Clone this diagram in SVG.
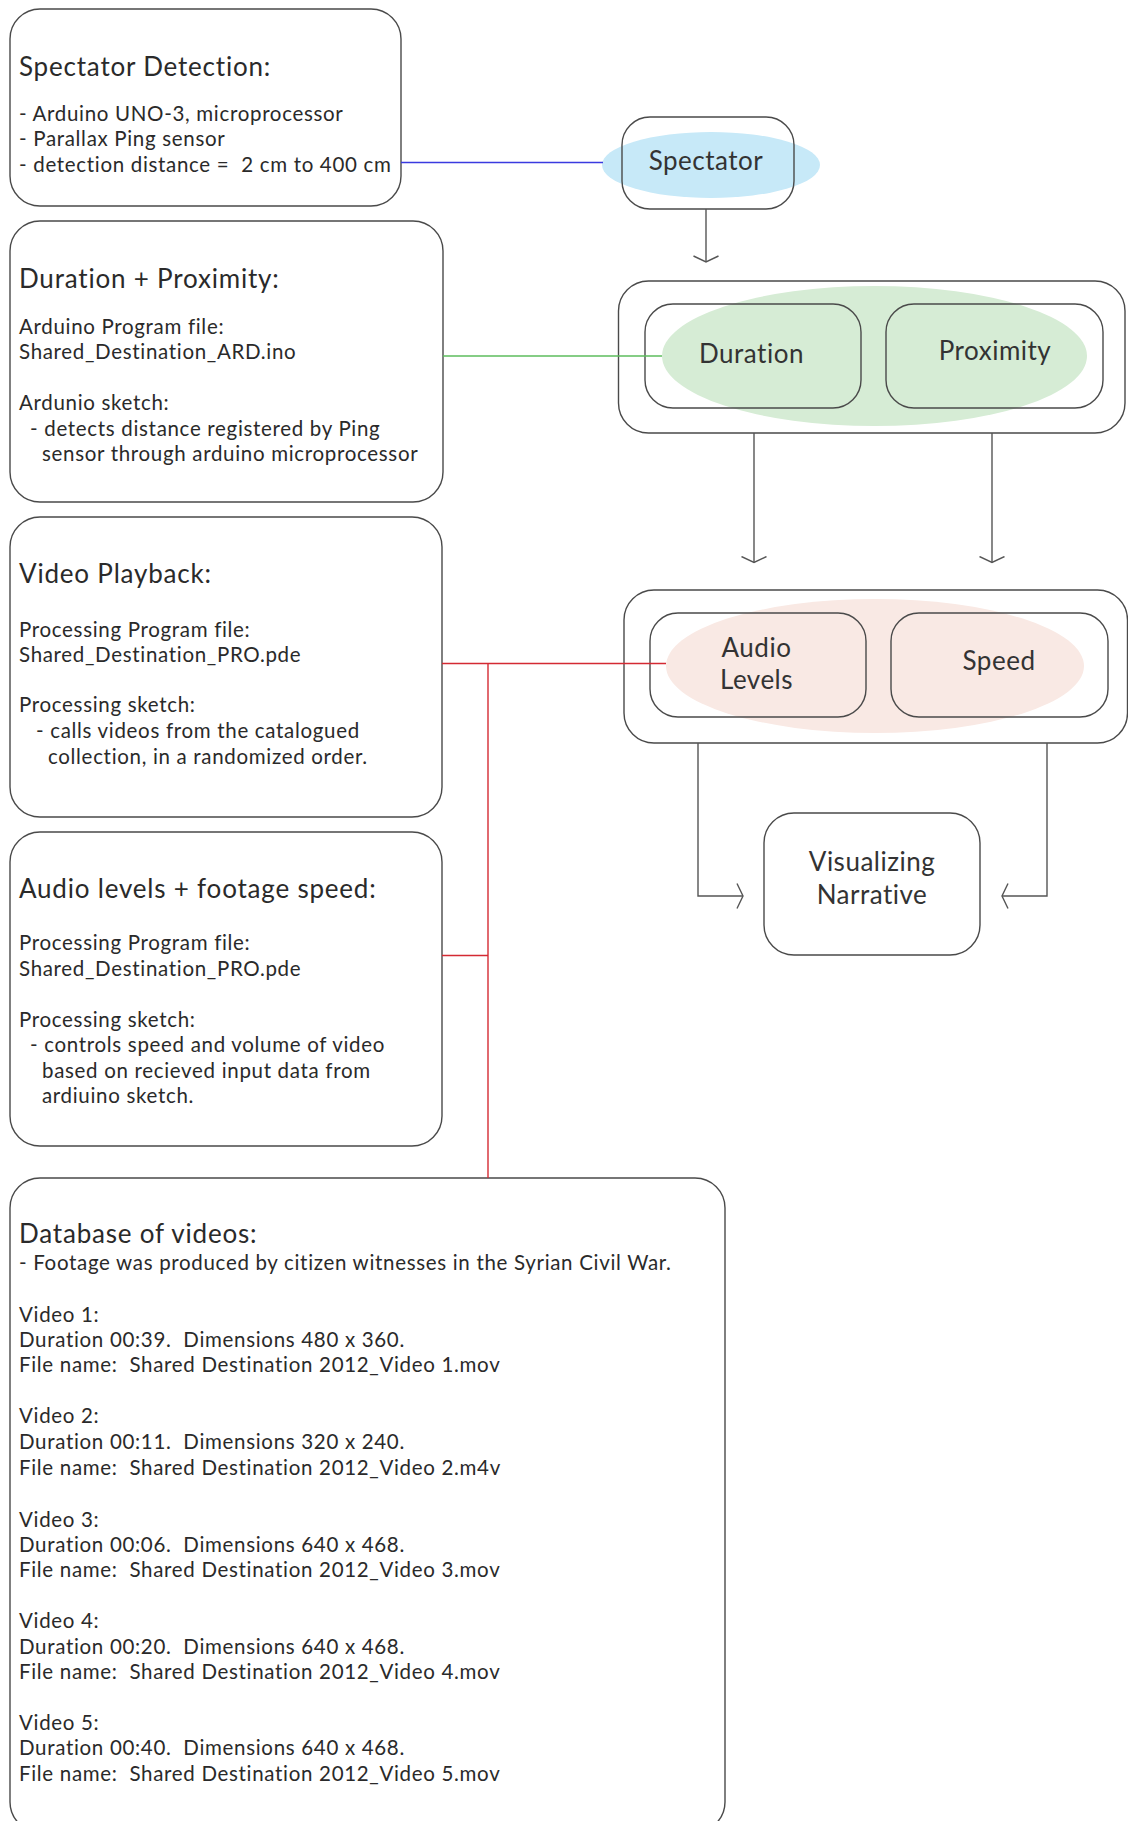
<svg xmlns="http://www.w3.org/2000/svg" width="1128" height="1821" viewBox="0 0 1128 1821">
  <style>
    text { white-space: pre; }
    .box { fill: #ffffff; stroke: #4a4a4a; stroke-width: 1.4; }
    .inner { fill: none; stroke: #4a4a4a; stroke-width: 1.4; }
    .title { font-family: Lato, "Liberation Sans", sans-serif; font-size: 26px; letter-spacing: 0.8px; fill: #2a2a2a; }
    .body { font-family: Lato, "Liberation Sans", sans-serif; font-size: 20.5px; letter-spacing: 0.68px; fill: #2a2a2a; }
    .label { font-family: Lato, "Liberation Sans", sans-serif; font-size: 26px; letter-spacing: 0.5px; fill: #333333; text-anchor: middle; }
    .flow { fill: none; stroke: #555555; stroke-width: 1.4; marker-end: url(#chevron); }
    .blue { stroke: #3a3ae0; stroke-width: 1.4; fill: none; }
    .green { stroke: #5cbc5c; stroke-width: 1.4; fill: none; }
    .red { stroke: #d42a33; stroke-width: 1.4; fill: none; }
  </style>
  <defs>
    <marker id="chevron" viewBox="0 0 8 28" refX="7" refY="14" markerWidth="8" markerHeight="28" markerUnits="userSpaceOnUse" orient="auto">
      <path d="M1,1.5 L7,14 L1,26.5" fill="none" stroke="#555555" stroke-width="1.4"/>
    </marker>
  </defs>

  <rect width="1128" height="1821" fill="#ffffff"/>

  <!-- description panels -->
  <g id="spectator-detection">
    <rect class="box" x="10" y="9" width="391" height="197" rx="30"/>
    <text class="title" x="19" y="76">Spectator Detection:</text>
    <text class="body" x="19" y="120.5">- Arduino UNO-3, microprocessor</text>
    <text class="body" x="19" y="146">- Parallax Ping sensor</text>
    <text class="body" x="19" y="171.5">- detection distance =  2 cm to 400 cm</text>
  </g>

  <g id="duration-proximity">
    <rect class="box" x="10" y="221" width="433" height="281" rx="30"/>
    <text class="title" x="19" y="288">Duration + Proximity:</text>
    <text class="body" x="19" y="334">Arduino Program file:</text>
    <text class="body" x="19" y="359">Shared_Destination_ARD.ino</text>
    <text class="body" x="19" y="410">Ardunio sketch:</text>
    <text class="body" x="30" y="435.5">- detects distance registered by Ping</text>
    <text class="body" x="42" y="460.5">sensor through arduino microprocessor</text>
  </g>

  <g id="video-playback">
    <rect class="box" x="10" y="517" width="432" height="300" rx="30"/>
    <text class="title" x="19" y="583">Video Playback:</text>
    <text class="body" x="19" y="636.5">Processing Program file:</text>
    <text class="body" x="19" y="661.5">Shared_Destination_PRO.pde</text>
    <text class="body" x="19" y="712">Processing sketch:</text>
    <text class="body" x="36" y="738">- calls videos from the catalogued</text>
    <text class="body" x="48" y="764">collection, in a randomized order.</text>
  </g>

  <g id="audio-speed-panel">
    <rect class="box" x="10" y="832" width="432" height="314" rx="30"/>
    <text class="title" x="19" y="898">Audio levels + footage speed:</text>
    <text class="body" x="19" y="950">Processing Program file:</text>
    <text class="body" x="19" y="975.5">Shared_Destination_PRO.pde</text>
    <text class="body" x="19" y="1026.5">Processing sketch:</text>
    <text class="body" x="30" y="1052">- controls speed and volume of video</text>
    <text class="body" x="42" y="1077.5">based on recieved input data from</text>
    <text class="body" x="42" y="1103">ardiuino sketch.</text>
  </g>

  <g id="database">
    <rect class="box" x="10" y="1178" width="715" height="654" rx="30"/>
    <text class="title" x="19" y="1243">Database of videos:</text>
    <text class="body" x="19" y="1270">- Footage was produced by citizen witnesses in the Syrian Civil War.</text>
    <text class="body" x="19" y="1321.5">Video 1:</text>
    <text class="body" x="19" y="1346.5">Duration 00:39.  Dimensions 480 x 360.</text>
    <text class="body" x="19" y="1371.5">File name:  Shared Destination 2012_Video 1.mov</text>
    <text class="body" x="19" y="1423">Video 2:</text>
    <text class="body" x="19" y="1448.5">Duration 00:11.  Dimensions 320 x 240.</text>
    <text class="body" x="19" y="1475">File name:  Shared Destination 2012_Video 2.m4v</text>
    <text class="body" x="19" y="1526.5">Video 3:</text>
    <text class="body" x="19" y="1551.5">Duration 00:06.  Dimensions 640 x 468.</text>
    <text class="body" x="19" y="1577">File name:  Shared Destination 2012_Video 3.mov</text>
    <text class="body" x="19" y="1628">Video 4:</text>
    <text class="body" x="19" y="1653.5">Duration 00:20.  Dimensions 640 x 468.</text>
    <text class="body" x="19" y="1679">File name:  Shared Destination 2012_Video 4.mov</text>
    <text class="body" x="19" y="1730">Video 5:</text>
    <text class="body" x="19" y="1755">Duration 00:40.  Dimensions 640 x 468.</text>
    <text class="body" x="19" y="1780.5">File name:  Shared Destination 2012_Video 5.mov</text>
  </g>

  <!-- flow nodes -->
  <g id="spectator">
    <ellipse cx="711" cy="165" rx="109" ry="33" fill="#c7e9f8"/>
    <rect class="inner" x="622" y="117" width="172" height="92" rx="28"/>
    <text class="label" x="706" y="169.5" fill="#2d4048">Spectator</text>
  </g>

  <g id="duration-proximity-group">
    <rect class="box" x="618.5" y="281" width="506.5" height="152" rx="30"/>
    <ellipse cx="874.5" cy="356" rx="212.5" ry="70" fill="#d6ecd5"/>
    <g id="duration">
      <rect class="inner" x="645" y="304" width="216" height="104" rx="28"/>
      <text class="label" x="751.5" y="362.5">Duration</text>
    </g>
    <g id="proximity">
      <rect class="inner" x="886" y="304" width="217" height="104" rx="28"/>
      <text class="label" x="995" y="360">Proximity</text>
    </g>
  </g>

  <g id="audio-speed-group">
    <rect class="box" x="624" y="590" width="503.5" height="153" rx="30"/>
    <ellipse cx="875" cy="666" rx="209" ry="67" fill="#f9e9e4"/>
    <g id="audio-levels">
      <rect class="inner" x="650" y="613" width="216" height="104" rx="28"/>
      <text class="label" x="756.5" y="657">Audio</text>
      <text class="label" x="756.5" y="689">Levels</text>
    </g>
    <g id="speed">
      <rect class="inner" x="891" y="613" width="217" height="104" rx="28"/>
      <text class="label" x="999" y="670">Speed</text>
    </g>
  </g>

  <g id="visualizing-narrative">
    <rect class="box" x="764" y="813" width="216" height="142" rx="30"/>
    <text class="label" x="872" y="871">Visualizing</text>
    <text class="label" x="872" y="904">Narrative</text>
  </g>

  <!-- connectors, drawn over the group frames so the coloured links reach the ellipses -->
  <g id="connectors">
    <line class="blue" x1="401" y1="162.5" x2="603" y2="162.5"/>
    <line class="green" x1="443" y1="356" x2="662" y2="356"/>
    <line class="red" x1="442" y1="663.5" x2="666" y2="663.5"/>
    <line class="red" x1="488" y1="663.5" x2="488" y2="1178"/>
    <line class="red" x1="442" y1="955.5" x2="488" y2="955.5"/>
    <path class="flow" d="M706,209 V262"/>
    <path class="flow" d="M754,433 V562.5"/>
    <path class="flow" d="M992,433 V562.5"/>
    <path class="flow" d="M698,743 V896 H743"/>
    <path class="flow" d="M1047,743 V896 H1002"/>
  </g>
</svg>
